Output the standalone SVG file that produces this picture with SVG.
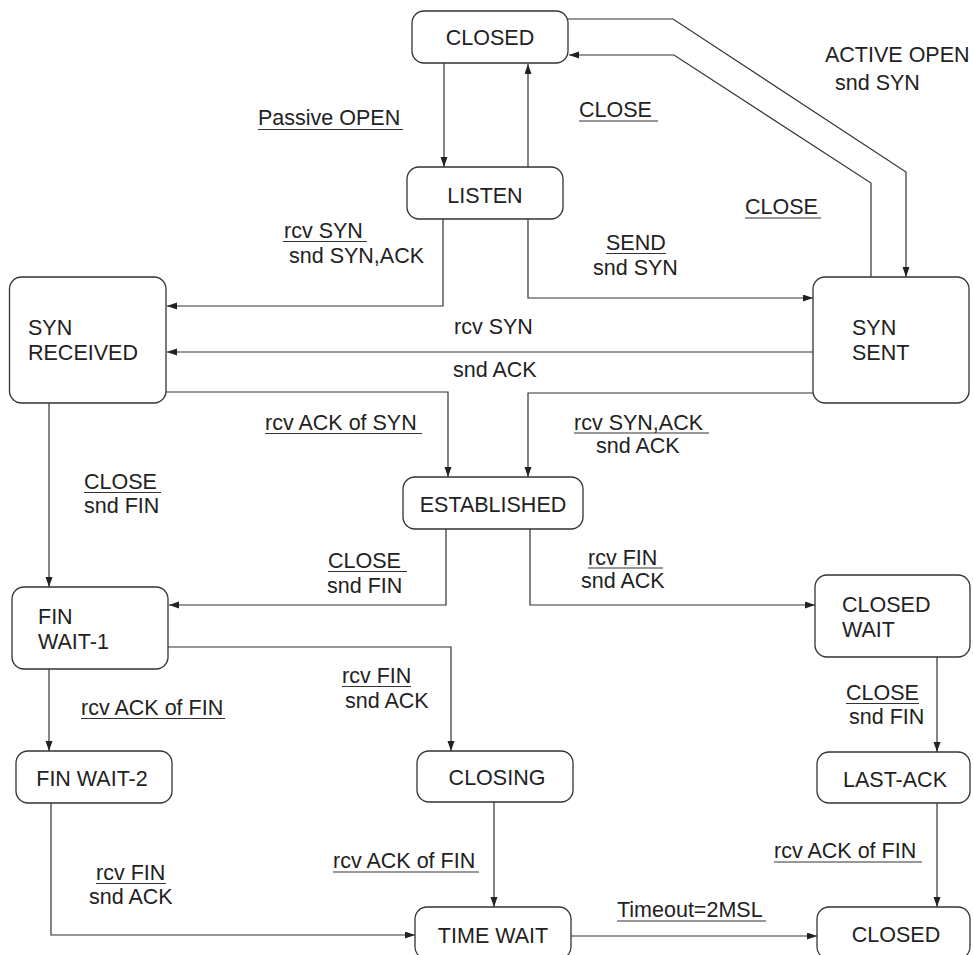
<svg xmlns="http://www.w3.org/2000/svg" width="973" height="955" viewBox="0 0 973 955">
<style>
.box{fill:#fff;stroke:#333;stroke-width:1.3}
.t{font-family:"Liberation Sans",Arial,sans-serif;font-size:21.5px;fill:#222}
.c{text-anchor:middle}
.ln{fill:none;stroke:#333;stroke-width:1.2}
.ul{stroke:#333;stroke-width:1.2}
</style>
<defs>
<marker id="ah" markerUnits="userSpaceOnUse" markerWidth="11" markerHeight="8" refX="10" refY="3.5" orient="auto">
<path d="M0,0 L10,3.5 L0,7 z" fill="#222"/>
</marker>
</defs>
<rect width="973" height="955" fill="#fff"/>
<g id="connectors" class="ln" marker-end="url(#ah)">
<path d="M444,63 V167"/>
<path d="M528,167 V64"/>
<path d="M568,19 H673 L906,172 V277"/>
<path d="M871,277 V183 L674,55 H569"/>
<path d="M443,219 V306 H167"/>
<path d="M528,219 V298 H813"/>
<path d="M813,352 H167"/>
<path d="M166,392 H448 V477"/>
<path d="M813,393 H528 V477"/>
<path d="M49,403 V587"/>
<path d="M446,529 V605 H169"/>
<path d="M530,529 V605 H815"/>
<path d="M168,647 H451 V751"/>
<path d="M49,669 V751"/>
<path d="M51,803 V935 H415"/>
<path d="M494,802 V907"/>
<path d="M937,657 V752"/>
<path d="M937,803 V907"/>
<path d="M571,936 H817"/>
</g>
<g id="closed-top"><rect class="box" x="412" y="11" width="156" height="52" rx="12"/><text class="t c" x="490" y="45">CLOSED</text></g>
<g id="listen"><rect class="box" x="407" y="167" width="156" height="52" rx="12"/><text class="t c" x="485" y="203">LISTEN</text></g>
<g id="syn-received"><rect class="box" x="9.5" y="277" width="156.5" height="126" rx="12"/><text class="t" x="28" y="335">SYN<tspan x="28" y="359.5">RECEIVED</tspan></text></g>
<g id="syn-sent"><rect class="box" x="813" y="277" width="156" height="126" rx="12"/><text class="t" x="852" y="335">SYN<tspan x="852" y="359.5">SENT</tspan></text></g>
<g id="established"><rect class="box" x="403" y="477" width="180" height="52" rx="12"/><text class="t c" x="493" y="512">ESTABLISHED</text></g>
<g id="fin-wait-1"><rect class="box" x="12" y="587" width="156" height="82" rx="12"/><text class="t" x="38" y="624">FIN<tspan x="38" y="648.5">WAIT-1</tspan></text></g>
<g id="closed-wait"><rect class="box" x="815" y="575" width="155" height="82" rx="12"/><text class="t" x="842" y="612">CLOSED<tspan x="842" y="636.5">WAIT</tspan></text></g>
<g id="fin-wait-2"><rect class="box" x="16" y="751" width="156" height="52" rx="12"/><text class="t c" x="92" y="786">FIN WAIT-2</text></g>
<g id="closing"><rect class="box" x="417" y="751" width="156" height="51" rx="12"/><text class="t c" x="497" y="785">CLOSING</text></g>
<g id="last-ack"><rect class="box" x="817" y="752" width="153" height="51" rx="12"/><text class="t c" x="895" y="787">LAST-ACK</text></g>
<g id="time-wait"><rect class="box" x="415" y="907" width="156" height="52" rx="12"/><text class="t c" x="493" y="943">TIME WAIT</text></g>
<g id="closed-bottom"><rect class="box" x="817" y="907" width="153" height="52" rx="12"/><text class="t c" x="896" y="942">CLOSED</text></g>
<g id="labels">
<text class="t" x="258" y="125">Passive OPEN</text><line class="ul" x1="258" y1="129.5" x2="403" y2="129.5"/>
<text class="t" x="579" y="117">CLOSE</text><line class="ul" x1="579" y1="121" x2="658" y2="121"/>
<text class="t" x="825" y="62">ACTIVE OPEN</text><text class="t" x="835" y="90">snd SYN</text>
<text class="t" x="745" y="214">CLOSE</text><line class="ul" x1="745" y1="218" x2="821" y2="218"/>
<text class="t" x="284" y="238">rcv SYN</text><line class="ul" x1="283" y1="241.5" x2="367" y2="241.5"/><text class="t" x="289" y="263">snd SYN,ACK</text>
<text class="t" x="606" y="250">SEND</text><line class="ul" x1="606" y1="253.5" x2="666" y2="253.5"/><text class="t" x="593" y="275">snd SYN</text>
<text class="t" x="454" y="334">rcv SYN</text><text class="t" x="453" y="377">snd ACK</text>
<text class="t" x="265" y="430">rcv ACK of SYN</text><line class="ul" x1="265" y1="433.5" x2="422" y2="433.5"/>
<text class="t" x="574" y="430">rcv SYN,ACK</text><line class="ul" x1="574" y1="433" x2="709" y2="433"/><text class="t" x="596" y="453">snd ACK</text>
<text class="t" x="84" y="489">CLOSE</text><line class="ul" x1="84" y1="492.5" x2="161" y2="492.5"/><text class="t" x="84" y="513">snd FIN</text>
<text class="t" x="328" y="568">CLOSE</text><line class="ul" x1="328" y1="571.5" x2="407" y2="571.5"/><text class="t" x="327" y="593">snd FIN</text>
<text class="t" x="588" y="565">rcv FIN</text><line class="ul" x1="588" y1="568" x2="663" y2="568"/><text class="t" x="581" y="588">snd ACK</text>
<text class="t" x="342" y="683">rcv FIN</text><line class="ul" x1="342" y1="686.5" x2="411" y2="686.5"/><text class="t" x="345" y="708">snd ACK</text>
<text class="t" x="81" y="715">rcv ACK of FIN</text><line class="ul" x1="81" y1="718.5" x2="225" y2="718.5"/>
<text class="t" x="846" y="700">CLOSE</text><line class="ul" x1="846" y1="703.5" x2="919" y2="703.5"/><text class="t" x="849" y="724">snd FIN</text>
<text class="t" x="96" y="880">rcv FIN</text><line class="ul" x1="96" y1="883.5" x2="166" y2="883.5"/><text class="t" x="89" y="904">snd ACK</text>
<text class="t" x="333" y="868">rcv ACK of FIN</text><line class="ul" x1="333" y1="872" x2="479" y2="872"/>
<text class="t" x="774" y="858">rcv ACK of FIN</text><line class="ul" x1="774" y1="862" x2="922" y2="862"/>
<text class="t" x="617" y="917">Timeout=2MSL</text><line class="ul" x1="617" y1="921" x2="766" y2="921"/>
</g>
</svg>
